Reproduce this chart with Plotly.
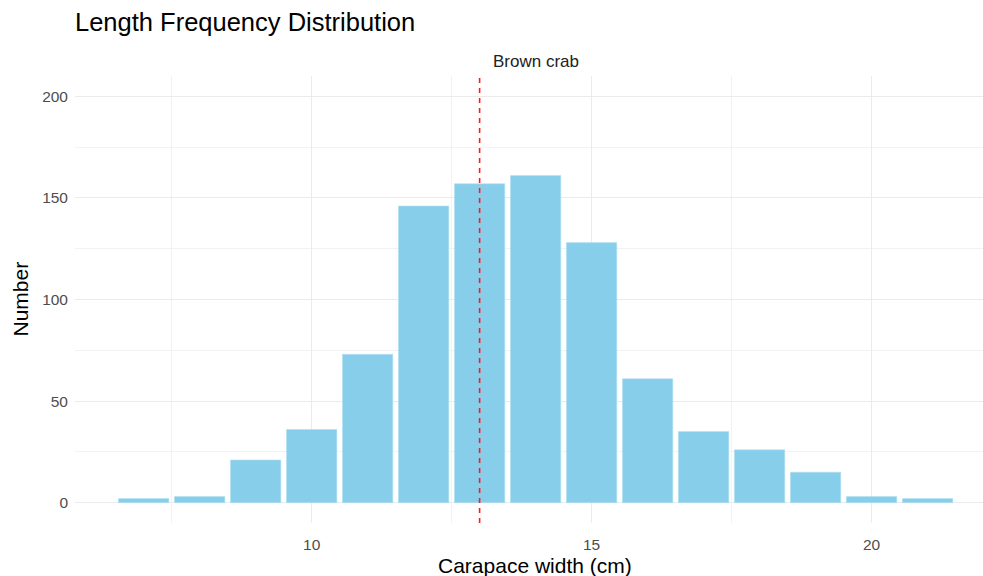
import plotly.graph_objects as go

widths_cm = [7, 8, 9, 10, 11, 12, 13, 14, 15, 16, 17, 18, 19, 20, 21]
counts = [2, 3, 21, 36, 73, 146, 157, 161, 128, 61, 35, 26, 15, 3, 2]
x_ticks = [10, 15, 20]
y_ticks = [0, 50, 100, 150, 200]
mean_line_x = 13
label_text = "Brown crab"

FONT = "Liberation Sans"
W, H = 983, 576
ML, MR, MT, MB = 75, 0, 76, 53
PH = H - MT - MB

fig = go.Figure()
fig.add_trace(go.Bar(
    x=widths_cm, y=counts, width=0.9,
    marker=dict(color="#87CEEB", line=dict(color="#B4E0F2", width=0.6)),
    hoverinfo="x+y", showlegend=False,
))

fig.add_shape(type="line", xref="x", yref="paper", x0=mean_line_x, x1=mean_line_x,
              y0=0, y1=1, line=dict(color="#FF1A1A", width=1.6, dash="5px,5px"), layer="above")

fig.add_annotation(x=mean_line_x + 1, xref="x", y=(H - MB - 62) / PH, yref="paper",
                   text=label_text, showarrow=False,
                   font=dict(family=FONT, size=17, color="#222222"),
                   xanchor="center", yanchor="middle")

# axis titles placed like ggplot (panel continues slightly past the image edge)
fig.add_annotation(x=13.99, xref="x", y=(H - MB - 565) / PH, yref="paper",
                   text="Carapace width (cm)", showarrow=False,
                   font=dict(family=FONT, size=21, color="#000000"),
                   xanchor="center", yanchor="middle")
fig.add_annotation(x=(20 - ML) / (W - ML), xref="paper", y=0.5, yref="paper",
                   text="Number", textangle=-90, showarrow=False,
                   font=dict(family=FONT, size=21, color="#000000"),
                   xanchor="center", yanchor="middle")

grid_major = "#EBEBEB"
fig.update_layout(
    width=W, height=H,
    margin=dict(l=ML, r=MR, t=MT, b=MB),
    paper_bgcolor="white", plot_bgcolor="white",
    title=dict(text="Length Frequency Distribution", xref="paper", x=0, xanchor="left",
               yref="container", y=1 - 22 / H, yanchor="middle",
               font=dict(family=FONT, size=25.5, color="#000000")),
    xaxis=dict(range=[5.774, 21.99], tickvals=x_ticks, ticktext=[str(v) for v in x_ticks],
               showgrid=True, gridcolor=grid_major, gridwidth=1.1, zeroline=False,
               showline=False, ticks="", ticklabelstandoff=10,
               tickfont=dict(family=FONT, size=15.5, color="#4D4D4D"),
               minor=dict(tickvals=[7.5, 12.5, 17.5], showgrid=True, gridcolor="#F2F2F2", gridwidth=0.6)),
    yaxis=dict(range=[-10, 210], tickvals=y_ticks, ticktext=[str(v) for v in y_ticks],
               showgrid=True, gridcolor=grid_major, gridwidth=1.1, zeroline=False,
               showline=False, ticks="", ticklabelstandoff=6,
               tickfont=dict(family=FONT, size=15.5, color="#4D4D4D"),
               minor=dict(tickvals=[25, 75, 125, 175], showgrid=True, gridcolor="#F2F2F2", gridwidth=0.6)),
    bargap=0.1,
)

fig.write_html("out.html", config={"displayModeBar": False},
               post_script="document.body.style.margin='0';document.body.style.padding='0';")
